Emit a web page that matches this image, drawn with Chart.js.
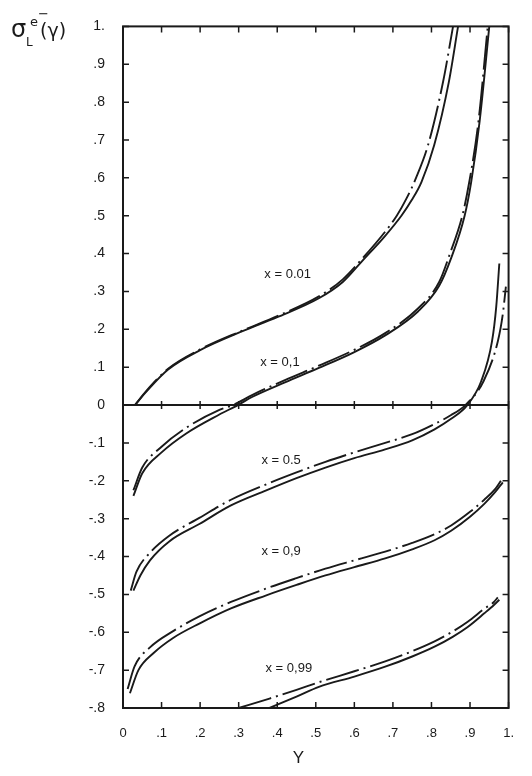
<!DOCTYPE html>
<html><head><meta charset="utf-8">
<script src="https://cdn.jsdelivr.net/npm/chart.js@4.4.0/dist/chart.umd.min.js"></script>
<style>html,body{margin:0;padding:0;background:#fff;} canvas{display:block;}</style>
</head><body>
<canvas id="c" width="532" height="776"></canvas>
<script>
// ---- data (Y, sigma) ----
const x001Solid = [[0.031,0],[0.06,0.035],[0.117,0.094],[0.2,0.145],[0.31,0.195],[0.4,0.232],[0.508,0.282],[0.57,0.325],[0.619,0.379],[0.68,0.447],[0.722,0.50],[0.748,0.54],[0.774,0.589],[0.807,0.686],[0.845,0.853],[0.869,1.0]];
const x001Dash  = [[0.031,0],[0.06,0.037],[0.117,0.096],[0.2,0.147],[0.31,0.197],[0.4,0.235],[0.508,0.287],[0.57,0.332],[0.619,0.385],[0.68,0.458],[0.71,0.50],[0.735,0.545],[0.76,0.60],[0.791,0.686],[0.83,0.853],[0.856,1.0]];
const x01Solid  = [[0.027,-0.24],[0.05,-0.18],[0.1,-0.125],[0.164,-0.075],[0.25,-0.025],[0.298,0],[0.336,0.022],[0.42,0.06],[0.508,0.098],[0.6,0.14],[0.68,0.184],[0.765,0.247],[0.82,0.315],[0.851,0.388],[0.886,0.50],[0.903,0.589],[0.925,0.75],[0.95,1.0]];
const x01Dash   = [[0.027,-0.225],[0.05,-0.165],[0.1,-0.11],[0.164,-0.06],[0.25,-0.013],[0.285,0],[0.336,0.027],[0.42,0.066],[0.508,0.104],[0.6,0.146],[0.68,0.19],[0.765,0.255],[0.82,0.325],[0.848,0.4],[0.88,0.50],[0.898,0.589],[0.922,0.75],[0.946,1.0]];
const x05Solid  = [[0.027,-0.49],[0.045,-0.45],[0.07,-0.41],[0.12,-0.36],[0.198,-0.314],[0.28,-0.265],[0.37,-0.226],[0.45,-0.193],[0.525,-0.165],[0.6,-0.14],[0.68,-0.117],[0.75,-0.093],[0.808,-0.064],[0.85,-0.037],[0.893,0],[0.929,0.063],[0.957,0.168],[0.968,0.26],[0.976,0.374]];
const x05Dash   = [[0.02,-0.49],[0.035,-0.44],[0.07,-0.39],[0.12,-0.345],[0.198,-0.298],[0.28,-0.25],[0.37,-0.21],[0.45,-0.178],[0.525,-0.15],[0.6,-0.125],[0.68,-0.1],[0.75,-0.077],[0.808,-0.05],[0.85,-0.027],[0.888,0],[0.935,0.063],[0.972,0.168],[0.985,0.24],[0.993,0.313]];
const x09Solid  = [[0.018,-0.761],[0.04,-0.70],[0.078,-0.656],[0.13,-0.615],[0.198,-0.577],[0.28,-0.537],[0.37,-0.503],[0.45,-0.475],[0.525,-0.45],[0.6,-0.428],[0.68,-0.405],[0.75,-0.381],[0.808,-0.357],[0.851,-0.332],[0.9,-0.295],[0.937,-0.261],[0.965,-0.23],[0.985,-0.204]];
const x09Dash   = [[0.012,-0.75],[0.03,-0.69],[0.07,-0.64],[0.13,-0.597],[0.198,-0.558],[0.28,-0.52],[0.37,-0.485],[0.45,-0.457],[0.525,-0.432],[0.6,-0.41],[0.68,-0.387],[0.75,-0.364],[0.808,-0.341],[0.851,-0.318],[0.9,-0.282],[0.937,-0.25],[0.965,-0.222],[0.98,-0.2]];
const x099Solid = [[0.38,-0.8],[0.45,-0.77],[0.508,-0.744],[0.6,-0.717],[0.68,-0.691],[0.75,-0.664],[0.808,-0.638],[0.855,-0.612],[0.894,-0.586],[0.937,-0.55],[0.962,-0.528],[0.976,-0.514]];
const x099Dash  = [[0.30,-0.8],[0.38,-0.775],[0.45,-0.752],[0.508,-0.732],[0.6,-0.703],[0.68,-0.677],[0.75,-0.65],[0.808,-0.624],[0.855,-0.598],[0.894,-0.572],[0.937,-0.538],[0.962,-0.52],[0.972,-0.508]];

const curveLabels = ['x = 0.01','x = 0,1','x = 0.5','x = 0,9','x = 0,99'];
const labelAtY    = [0.427, 0.407, 0.41, 0.41, 0.43];
const labelAtV    = [0.345, 0.113, -0.145, -0.387, -0.695];

const xTickLabels = ['0','.1','.2','.3','.4','.5','.6','.7','.8','.9','1.'];
const yTickLabels = ['-.8','-.7','-.6','-.5','-.4','-.3','-.2','-.1','0','.1','.2','.3','.4','.5','.6','.7','.8','.9','1.'];

const INK = '#1a1a1a';
const toPts = a => a.map(p => ({x:p[0], y:p[1]}));
function solid(a){ return {data:toPts(a), borderColor:INK, borderWidth:1.9, pointRadius:0, showLine:true, cubicInterpolationMode:'monotone', fill:false}; }
function dash(a){ return {data:toPts(a), borderColor:INK, borderWidth:1.9, borderDash:[34,5,2,5], pointRadius:0, showLine:true, cubicInterpolationMode:'monotone', fill:false}; }

const framePlugin = {
  id:'frame',
  beforeDatasetsDraw(chart){
    const {ctx, chartArea:a, scales:{x, y}} = chart;
    ctx.save();
    ctx.strokeStyle = INK; ctx.lineWidth = 2;
    ctx.strokeRect(a.left, a.top, a.right-a.left, a.bottom-a.top);
    const y0 = y.getPixelForValue(0);
    ctx.beginPath(); ctx.moveTo(a.left, y0); ctx.lineTo(a.right, y0); ctx.stroke();
    ctx.lineWidth = 1.5;
    ctx.beginPath();
    y.ticks.forEach(t => {
      const py = y.getPixelForValue(t.value);
      ctx.moveTo(a.left, py); ctx.lineTo(a.left+6, py);
      ctx.moveTo(a.right-6, py); ctx.lineTo(a.right, py);
    });
    x.ticks.forEach(t => {
      const px = x.getPixelForValue(t.value);
      ctx.moveTo(px, a.top); ctx.lineTo(px, a.top+6);
      ctx.moveTo(px, a.bottom-6); ctx.lineTo(px, a.bottom);
      ctx.moveTo(px, y0-4); ctx.lineTo(px, y0+4);
    });
    ctx.stroke();
    ctx.restore();
  },
  afterDraw(chart){
    const {ctx, scales:{x, y}} = chart;
    ctx.save();
    ctx.fillStyle = INK;
    ctx.font = '13px "Liberation Sans", Arial, sans-serif';
    ctx.textAlign = 'center'; ctx.textBaseline = 'middle';
    curveLabels.forEach((s,i) => ctx.fillText(s, x.getPixelForValue(labelAtY[i]), y.getPixelForValue(labelAtV[i])));
    // x-axis title
    ctx.font = '17px "Liberation Sans", Arial, sans-serif';
    ctx.fillText('Y', x.getPixelForValue(0.455), 758);
    // y-axis title  sigma_L^{e-}(gamma)
    ctx.textAlign = 'left'; ctx.textBaseline = 'alphabetic';
    ctx.font = '24px "DejaVu Sans", sans-serif';
    ctx.fillText('σ', 11, 37);
    ctx.font = '12px "DejaVu Sans", sans-serif';
    ctx.fillText('L', 26, 46);
    ctx.font = '13px "DejaVu Sans", sans-serif';
    ctx.fillText('e', 30, 26);
    ctx.fillText('−', 38, 18);
    ctx.font = '19px "DejaVu Sans", sans-serif';
    ctx.fillText('(γ)', 40, 37);
    ctx.restore();
  }
};

new Chart(document.getElementById('c'), {
  type:'scatter',
  data:{ datasets:[
    solid(x001Solid), dash(x001Dash),
    solid(x01Solid),  dash(x01Dash),
    solid(x05Solid),  dash(x05Dash),
    solid(x09Solid),  dash(x09Dash),
    solid(x099Solid), dash(x099Dash)
  ]},
  options:{
    responsive:false, animation:false, devicePixelRatio:1,
    layout:{padding:{top:24, right:21, left:0, bottom:0}},
    plugins:{legend:{display:false}, tooltip:{enabled:false}},
    scales:{
      x:{type:'linear', min:0, max:1,
         ticks:{stepSize:0.1, autoSkip:false, maxRotation:0, padding:18, color:INK,
                font:{family:'"Liberation Sans", Arial, sans-serif', size:13},
                callback:v => xTickLabels[Math.round(v*10)]},
         grid:{display:false, drawTicks:false}, border:{display:false},
         afterFit:s => { s.height = 68; }},
      y:{type:'linear', min:-0.8, max:1,
         ticks:{stepSize:0.1, autoSkip:false, padding:18, color:INK,
                font:{family:'"Liberation Sans", Arial, sans-serif', size:14},
                callback:v => yTickLabels[Math.round(v*10)+8]},
         grid:{display:false, drawTicks:false}, border:{display:false},
         afterFit:s => { s.width = 123; }}
    }
  },
  plugins:[framePlugin]
});
</script>
</body></html>
